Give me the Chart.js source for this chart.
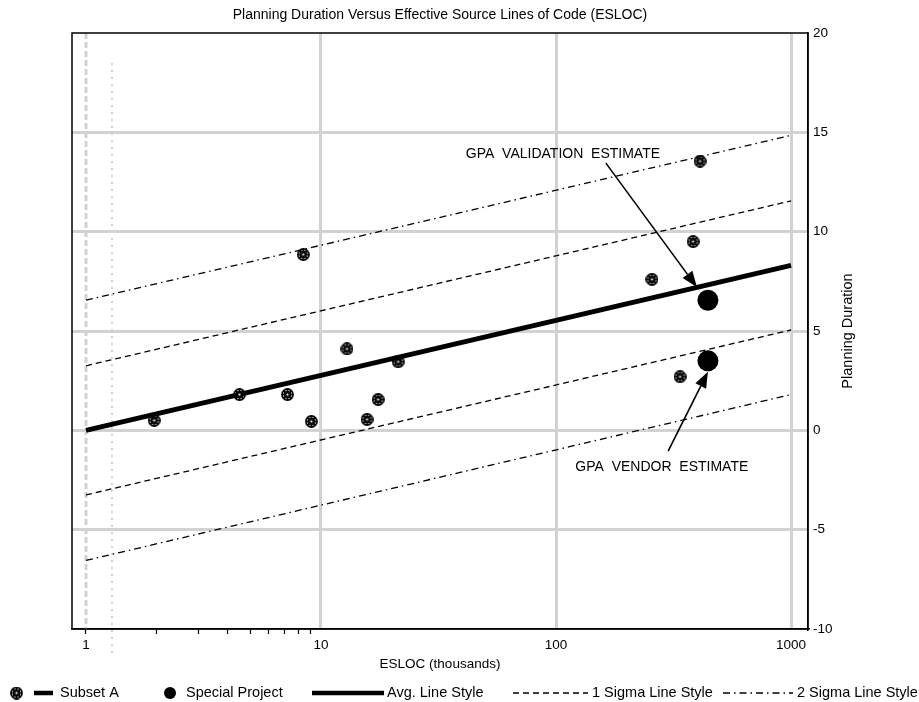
<!DOCTYPE html>
<html>
<head>
<meta charset="utf-8">
<script src="https://cdn.jsdelivr.net/npm/chart.js@4/dist/chart.umd.min.js"></script>
<style>
  html, body { margin: 0; padding: 0; background: #fff; }
  #c { display: block; }
</style>
</head>
<body>
<canvas id="c" width="919" height="702"></canvas>
<script>
// ---------------- DATA ----------------
const chartTitle = 'Planning Duration Versus Effective Source Lines of Code (ESLOC)';
const xAxisTitle = 'ESLOC (thousands)';
const yAxisTitle = 'Planning Duration';

// Subset A points (ESLOC thousands, planning duration)
const subsetX = [1.95, 4.5, 7.2, 8.4, 9.1, 12.9, 15.7, 17.5, 21.3, 256, 337, 383, 410];
const subsetY = [0.5, 1.8, 1.8, 8.85, 0.45, 4.1, 0.55, 1.55, 3.45, 7.6, 2.7, 9.5, 13.55];

// Special project points
const specialX = [443, 443];
const specialY = [6.55, 3.5];

// Fitted lines (end points at x = 1 and x = 1000)
const lineX = [1, 1000];
const avgY = [0, 8.3];
const sigma1UpperY = [3.25, 11.55];
const sigma1LowerY = [-3.25, 5.05];
const sigma2UpperY = [6.55, 14.85];
const sigma2LowerY = [-6.55, 1.8];

// Axis ticks
const xTickValues = [1, 2, 3, 4, 5, 6, 7, 8, 9, 10, 100, 1000];
const xTickLabels = ['1', '', '', '', '', '', '', '', '', '10', '100', '1000'];
const xGridValues = [10, 100, 1000];
const yTickValues = [-10, -5, 0, 5, 10, 15, 20];

// Reference vertical lines
const refDashedX = [1];
const refDottedX = [1.29];

// Annotations: label text, label position, arrow start, arrow tip
const annLabels = ['GPA  VALIDATION  ESTIMATE', 'GPA  VENDOR  ESTIMATE'];
const annLabelX = [107, 282];
const annLabelY = [13.9, -1.85];
const annArrowFromX = [163, 300];
const annArrowFromY = [13.45, -1.05];
const annArrowToX = [398, 443];
const annArrowToY = [7.2, 2.95];

// Legend
const legendLabels = ['Subset A', 'Special Project', 'Avg. Line Style', '1 Sigma Line Style', '2 Sigma Line Style'];

// ---------------- STYLE ----------------
const FONT = '"Liberation Sans", Arial, sans-serif';
const GRID = '#d2d2d2';
const DASH1 = [6, 4];
const DASH2 = [7, 4, 1.5, 4];

function makeMarker(size) {
  const c = document.createElement('canvas');
  c.width = c.height = size;
  const g = c.getContext('2d');
  const cx = size / 2, r = size / 2 - 1;
  g.strokeStyle = '#000';
  g.lineWidth = 1.8;
  g.beginPath(); g.arc(cx, cx, r, 0, Math.PI * 2); g.stroke();
  g.lineWidth = 1.6;
  for (let k = 0; k < 4; k++) {
    const a = k * Math.PI / 4;
    g.beginPath();
    g.moveTo(cx + Math.cos(a) * r, cx + Math.sin(a) * r);
    g.lineTo(cx - Math.cos(a) * r, cx - Math.sin(a) * r);
    g.stroke();
  }
  g.lineWidth = 1.4;
  g.beginPath(); g.arc(cx, cx, r * 0.55, 0, Math.PI * 2); g.stroke();
  g.fillStyle = '#fff';
  g.beginPath(); g.arc(cx, cx, 1.1, 0, Math.PI * 2); g.fill();
  return c;
}
const subsetMarker = makeMarker(13);

const pts = (xs, ys) => xs.map((x, i) => ({ x: x, y: ys[i] }));

const lineDs = (label, ys, width, dash) => ({
  type: 'line', label: label, data: pts(lineX, ys),
  borderColor: '#000', borderWidth: width, borderDash: dash || [],
  pointRadius: 0, fill: false, tension: 0, order: 5
});

function arrow(ctx, x1, y1, x2, y2) {
  const ang = Math.atan2(y2 - y1, x2 - x1);
  const hl = 16, hw = 6;
  const bx = x2 - Math.cos(ang) * hl, by = y2 - Math.sin(ang) * hl;
  ctx.beginPath(); ctx.moveTo(x1, y1); ctx.lineTo(bx, by); ctx.stroke();
  ctx.beginPath();
  ctx.moveTo(x2, y2);
  ctx.lineTo(bx + Math.sin(ang) * hw, by - Math.cos(ang) * hw);
  ctx.lineTo(bx - Math.sin(ang) * hw, by + Math.cos(ang) * hw);
  ctx.closePath(); ctx.fill();
}

const decorPlugin = {
  id: 'decor',
  beforeDatasetsDraw(chart) {
    const ctx = chart.ctx, xs = chart.scales.x, a = chart.chartArea;
    ctx.save();
    ctx.strokeStyle = GRID;
    ctx.lineWidth = 3;
    ctx.setLineDash([6, 3]);
    refDashedX.forEach(v => {
      const px = xs.getPixelForValue(v);
      ctx.beginPath(); ctx.moveTo(px, a.top); ctx.lineTo(px, a.bottom); ctx.stroke();
    });
    ctx.lineWidth = 2;
    ctx.setLineDash([2, 5]);
    refDottedX.forEach(v => {
      const px = xs.getPixelForValue(v);
      ctx.beginPath(); ctx.moveTo(px, a.top + 30); ctx.lineTo(px, a.bottom + 26); ctx.stroke();
    });
    ctx.restore();
  },
  afterDraw(chart) {
    const ctx = chart.ctx, xs = chart.scales.x, ys = chart.scales.y, a = chart.chartArea;
    ctx.save();
    // frame
    ctx.strokeStyle = '#000';
    ctx.lineWidth = 1.5;
    ctx.setLineDash([]);
    ctx.strokeRect(a.left, a.top, a.right - a.left, a.bottom - a.top);

    ctx.fillStyle = '#000';
    ctx.textAlign = 'center';
    ctx.textBaseline = 'middle';

    // title, centred over the plot area
    ctx.font = '14px ' + FONT;
    ctx.fillText(chartTitle, (a.left + a.right) / 2, 15);

    // annotations
    ctx.font = '14px ' + FONT;
    ctx.lineWidth = 1.6;
    annLabels.forEach((t, i) => {
      ctx.fillText(t, xs.getPixelForValue(annLabelX[i]), ys.getPixelForValue(annLabelY[i]));
      arrow(ctx,
        xs.getPixelForValue(annArrowFromX[i]), ys.getPixelForValue(annArrowFromY[i]),
        xs.getPixelForValue(annArrowToX[i]), ys.getPixelForValue(annArrowToY[i]));
    });

    // y axis title (reads bottom to top)
    ctx.save();
    ctx.font = '14.5px ' + FONT;
    ctx.translate(848, (a.top + a.bottom) / 2);
    ctx.rotate(-Math.PI / 2);
    ctx.fillText(yAxisTitle, 0, 0);
    ctx.restore();

    // legend
    const ly = 693;
    ctx.font = '14.5px ' + FONT;
    ctx.textAlign = 'left';
    ctx.textBaseline = 'middle';
    ctx.drawImage(subsetMarker, 10, ly - 6.5);
    ctx.lineWidth = 4.5;
    ctx.beginPath(); ctx.moveTo(34, ly); ctx.lineTo(53, ly); ctx.stroke();
    ctx.fillText(legendLabels[0], 60, ly);
    ctx.beginPath(); ctx.arc(170, ly, 6, 0, Math.PI * 2); ctx.fill();
    ctx.fillText(legendLabels[1], 186, ly);
    ctx.lineWidth = 4.5;
    ctx.beginPath(); ctx.moveTo(312, ly); ctx.lineTo(384, ly); ctx.stroke();
    ctx.fillText(legendLabels[2], 387, ly);
    ctx.lineWidth = 1.3;
    ctx.setLineDash(DASH1);
    ctx.beginPath(); ctx.moveTo(513, ly); ctx.lineTo(588, ly); ctx.stroke();
    ctx.setLineDash([]);
    ctx.fillText(legendLabels[3], 592, ly);
    ctx.setLineDash(DASH2);
    ctx.beginPath(); ctx.moveTo(723, ly); ctx.lineTo(793, ly); ctx.stroke();
    ctx.setLineDash([]);
    ctx.fillText(legendLabels[4], 797, ly);
    ctx.restore();
  }
};

new Chart(document.getElementById('c'), {
  data: {
    datasets: [
      {
        type: 'scatter', label: legendLabels[0], data: pts(subsetX, subsetY),
        pointStyle: subsetMarker, pointRadius: 6.5, order: 1
      },
      {
        type: 'scatter', label: legendLabels[1], data: pts(specialX, specialY),
        pointStyle: 'circle', pointRadius: 10.5, backgroundColor: '#000', borderColor: '#000',
        borderWidth: 0, order: 2
      },
      lineDs(legendLabels[2], avgY, 5),
      lineDs('+1 sigma', sigma1UpperY, 1.3, DASH1),
      lineDs('-1 sigma', sigma1LowerY, 1.3, DASH1),
      lineDs('+2 sigma', sigma2UpperY, 1.3, DASH2),
      lineDs('-2 sigma', sigma2LowerY, 1.3, DASH2)
    ]
  },
  options: {
    responsive: false,
    devicePixelRatio: 1,
    animation: false,
    layout: { padding: { left: 72, right: 0, top: 33, bottom: 30 } },
    plugins: {
      legend: { display: false },
      tooltip: { enabled: false },
      title: { display: false }
    },
    scales: {
      x: {
        type: 'logarithmic', position: 'bottom', min: 0.872, max: 1181,
        afterFit(s) { s.height = 43; },
        afterBuildTicks(s) { s.ticks = xTickValues.map(v => ({ value: v })); },
        ticks: {
          autoSkip: false, maxRotation: 0, minRotation: 0, color: '#000', padding: 3,
          font: { family: FONT, size: 13.5 },
          callback: (v) => { const i = xTickValues.indexOf(v); return i >= 0 ? xTickLabels[i] : ''; }
        },
        grid: {
          color: (c) => (c.tick && xGridValues.includes(c.tick.value)) ? GRID : 'rgba(0,0,0,0)',
          lineWidth: 3,
          drawTicks: true, tickLength: 5, tickWidth: 1.2,
          tickColor: (c) => (c.tick && c.tick.value < 10) ? '#000' : 'rgba(0,0,0,0)'
        },
        border: { color: '#000', width: 1.5 },
        title: {
          display: true, text: xAxisTitle, color: '#000',
          font: { family: FONT, size: 13.5 }, padding: 0
        }
      },
      y: {
        type: 'linear', position: 'right', min: -10, max: 20,
        afterFit(s) { s.width = 111; },
        afterBuildTicks(s) { s.ticks = yTickValues.map(v => ({ value: v })); },
        ticks: { color: '#000', padding: 5, font: { family: FONT, size: 13.5 } },
        grid: {
          color: (c) => (c.tick && (c.tick.value === -10 || c.tick.value === 20)) ? 'rgba(0,0,0,0)' : GRID,
          lineWidth: 3, drawTicks: false
        },
        border: { color: '#000', width: 1.5 },
        title: { display: false }
      }
    }
  },
  plugins: [decorPlugin]
});
</script>
</body>
</html>
